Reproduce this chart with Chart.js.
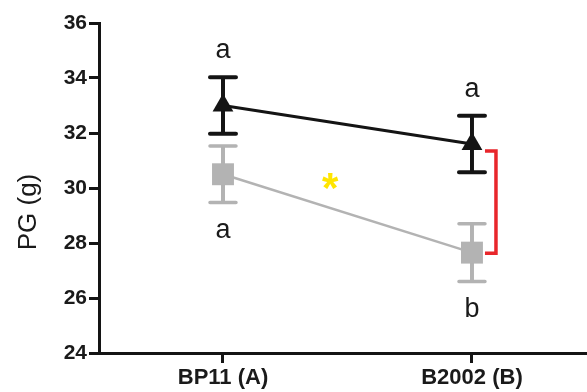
<!DOCTYPE html>
<html>
<head>
<meta charset="utf-8">
<script src="https://cdn.jsdelivr.net/npm/chart.js@4"></script>
<style>
  html, body { margin: 0; padding: 0; background: #ffffff; overflow: hidden; }
  #wrap { width: 587px; height: 392px; overflow: hidden; }
  canvas { display: block; }
</style>
</head>
<body>
<div id="wrap"><canvas id="c" width="587" height="392"></canvas></div>
<script>
// ---- data ----
const categories = ["BP11 (A)", "B2002 (B)"];
const blackMeans = [33.0, 31.6];
const blackErr   = [1.03, 1.03];
const grayMeans  = [30.5, 27.65];
const grayErr    = [1.03, 1.05];
const blackLetters = ["a", "a"];
const grayLetters  = ["a", "b"];
const yTicks = [24, 26, 28, 30, 32, 34, 36];
const yTitle = "PG (g)";
const starAnchor = [0.43, 30.27];

const BLACK = "#141414";
const GRAY = "#b3b3b3";
const RED = "#e8262b";
const YELLOW = "#ffe500";
const FONT = "'Liberation Sans', Arial, sans-serif";

// stretch the plot area to the right edge of the canvas (as in the reference)
const fullWidthPlugin = {
  id: "fullWidth",
  afterLayout(chart) {
    const xs = chart.scales.x;
    const W = chart.width;
    if (xs.right < W) {
      xs.right = W;
      xs.width = W - xs.left;
      chart.chartArea.right = W;
      chart.chartArea.width = W - chart.chartArea.left;
      xs.configure();
    }
  }
};

const errPlugin = {
  id: "errbars",
  beforeDatasetsDraw(chart) {
    const ctx = chart.ctx, xs = chart.scales.x, ys = chart.scales.y;
    const draw = (means, errs, color, stemW, capW, capH) => {
      ctx.save();
      ctx.strokeStyle = color;
      means.forEach((m, i) => {
        const x = xs.getPixelForValue(i);
        const yt = ys.getPixelForValue(m + errs[i]);
        const yb = ys.getPixelForValue(m - errs[i]);
        ctx.lineWidth = stemW;
        ctx.lineCap = "butt";
        ctx.beginPath(); ctx.moveTo(x, yt); ctx.lineTo(x, yb); ctx.stroke();
        ctx.lineWidth = capH;
        ctx.lineCap = "round";
        ctx.beginPath();
        ctx.moveTo(x - capW / 2, yt); ctx.lineTo(x + capW / 2, yt);
        ctx.moveTo(x - capW / 2, yb); ctx.lineTo(x + capW / 2, yb);
        ctx.stroke();
      });
      ctx.restore();
    };
    draw(grayMeans, grayErr, GRAY, 4, 26, 3.5);
    draw(blackMeans, blackErr, BLACK, 4, 26, 4);
  },
  afterDatasetsDraw(chart) {
    const ctx = chart.ctx, xs = chart.scales.x, ys = chart.scales.y;
    ctx.save();
    // letters
    ctx.fillStyle = "#1a1a1a";
    ctx.font = "27px " + FONT;
    ctx.textAlign = "center";
    ctx.textBaseline = "alphabetic";
    blackLetters.forEach((t, i) => {
      const x = xs.getPixelForValue(i);
      const y = ys.getPixelForValue(blackMeans[i] + blackErr[i]);
      ctx.fillText(t, x, y - 19);
    });
    grayLetters.forEach((t, i) => {
      const x = xs.getPixelForValue(i);
      const y = ys.getPixelForValue(grayMeans[i] - grayErr[i]);
      ctx.fillText(t, x, y + 35);
    });
    // asterisk
    ctx.fillStyle = YELLOW;
    ctx.font = "bold 42px " + FONT;
    const m = ctx.measureText("*");
    const sx = xs.getPixelForValue(starAnchor[0]);
    const sy = ys.getPixelForValue(starAnchor[1]);
    ctx.fillText("*", sx, sy + (m.actualBoundingBoxAscent - m.actualBoundingBoxDescent) / 2);
    // red bracket between series at B
    const bx = xs.getPixelForValue(1) + 24;
    const by1 = ys.getPixelForValue(blackMeans[1]) + 7;
    const by2 = ys.getPixelForValue(grayMeans[1]) + 0.5;
    ctx.strokeStyle = RED;
    ctx.lineWidth = 3.5;
    ctx.lineJoin = "miter";
    ctx.beginPath();
    ctx.moveTo(bx - 11, by1); ctx.lineTo(bx, by1); ctx.lineTo(bx, by2); ctx.lineTo(bx - 11, by2);
    ctx.stroke();
    // y title
    ctx.fillStyle = "#1a1a1a";
    ctx.font = "26px " + FONT;
    ctx.textAlign = "center";
    ctx.textBaseline = "middle";
    ctx.translate(29, 212);
    ctx.rotate(-Math.PI / 2);
    ctx.fillText(yTitle, 0, 0);
    ctx.restore();
  }
};

new Chart(document.getElementById("c"), {
  type: "line",
  data: {
    datasets: [
      {
        label: "black",
        data: blackMeans.map((v, i) => ({ x: i, y: v })),
        borderColor: BLACK,
        backgroundColor: BLACK,
        borderWidth: 3,
        pointStyle: "triangle",
        pointRadius: 12,
        pointBorderWidth: 0,
        pointBackgroundColor: BLACK,
        clip: false,
        order: 1
      },
      {
        label: "gray",
        data: grayMeans.map((v, i) => ({ x: i, y: v })),
        borderColor: GRAY,
        backgroundColor: GRAY,
        borderWidth: 2.5,
        pointStyle: "rect",
        pointRadius: 15.5,
        pointBorderWidth: 0,
        pointBackgroundColor: GRAY,
        clip: false,
        order: 2
      }
    ]
  },
  options: {
    responsive: false,
    animation: false,
    devicePixelRatio: 1,
    layout: { padding: { top: 23, right: 0, left: 0, bottom: 0 } },
    plugins: { legend: { display: false }, tooltip: { enabled: false } },
    scales: {
      x: {
        type: "linear",
        min: -0.498,
        max: 1.462,
        afterBuildTicks(scale) { scale.ticks = categories.map((c, i) => ({ value: i })); },
        afterFit(scale) { scale.height = 39; },
        ticks: {
          callback: (v) => categories[v] ?? "",
          color: "#1a1a1a",
          font: { family: FONT, size: 22, weight: "bold" },
          padding: 2,
          maxRotation: 0,
          autoSkip: false
        },
        grid: { display: true, drawOnChartArea: false, drawTicks: true, tickLength: 10, color: BLACK, lineWidth: 3 },
        border: { display: true, color: BLACK, width: 3 }
      },
      y: {
        min: 24,
        max: 36,
        afterBuildTicks(scale) { scale.ticks = yTicks.map(v => ({ value: v })); },
        afterFit(scale) { scale.width = 99; },
        ticks: {
          color: "#1a1a1a",
          font: { family: FONT, size: 21, weight: "bold" },
          padding: 2
        },
        grid: { display: true, drawOnChartArea: false, drawTicks: true, tickLength: 10, color: BLACK, lineWidth: 3 },
        border: { display: true, color: BLACK, width: 3 }
      }
    }
  },
  plugins: [fullWidthPlugin, errPlugin]
});
</script>
</body>
</html>
